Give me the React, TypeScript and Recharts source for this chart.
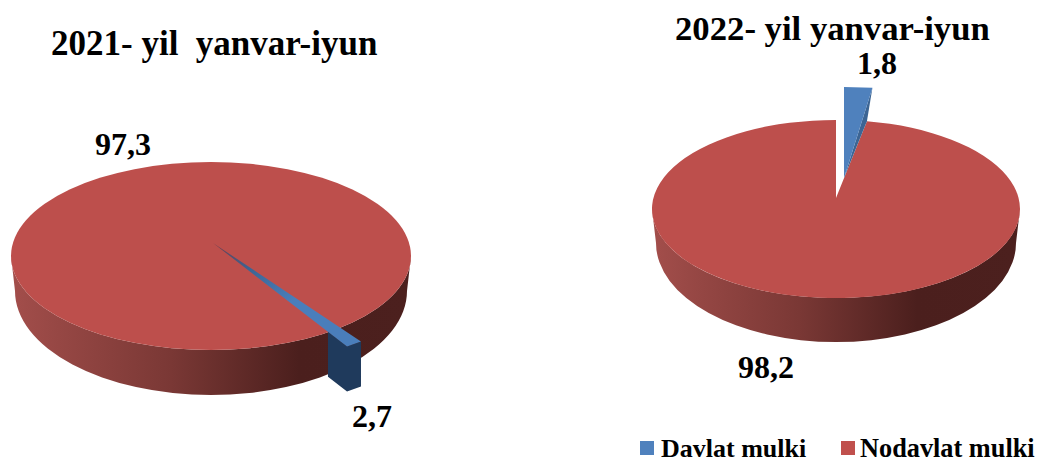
import { PieChart, Pie } from "recharts";

const names = ["Nodavlat mulki", "Davlat mulki"];
const values2021 = [97.3, 2.7];
const values2022 = [98.2, 1.8];
const colors = ["#c0504d", "#4f81bd"];
const serif = "'Liberation Serif', serif";

const table = (values: number[]) =>
    values.map((value, i) => ({ name: names[i], value, fill: colors[i] }));

type Look = {
    squash: number;
    depth: number;
    wallId: string;
    apexShift: [number, number];
    rimShift: [number, number];
    rimScale: number;
    narrow: number;
    redApexShift: number;
    redExtra: number;
    fullDisc: boolean;
    frontWall: boolean;
};

const look2021: Look = {
    squash: 0.47, depth: 45, wallId: "wall2021",
    apexShift: [2, -13], rimShift: [0, 0], rimScale: 1.178, narrow: 0.44,
    redApexShift: 0, redExtra: 0, fullDisc: true, frontWall: true,
};
const look2022: Look = {
    squash: 0.484, depth: 44, wallId: "wall2022",
    apexShift: [8, -31], rimShift: [8, 0], rimScale: 1.37, narrow: 1,
    redApexShift: -11, redExtra: 3.2, fullDisc: false, frontWall: false,
};

const rad = Math.PI / 180;

// recharts only knows flat pies, so squash each sector and add a wall
const slice3D = (look: Look) => (props: any) => {
    const { cx, cy, startAngle, endAngle, outerRadius, name } = props;
    const r = outerRadius;
    const ry = r * look.squash;
    const at = (deg: number, k = 1, sx = 0, sy = 0): [number, number] => [
        cx + k * r * Math.cos(deg * rad) + sx,
        cy - k * ry * Math.sin(deg * rad) + sy,
    ];
    const d = look.depth;

    if (name === names[0]) {
        const rimStart = at(startAngle - look.redExtra);
        const rimEnd = at(endAngle);
        const left = at(180);
        const right = at(0);
        // lower edge is a little narrower and rounder, as in the perspective view
        const low = cy + d - 10;
        const wall = `M${left[0]},${left[1]} A${r},${ry} 0 0 0 ${right[0]},${right[1]} L${right[0] - 4},${low} A${r - 4},${ry + 10} 0 0 1 ${left[0] + 4},${low} Z`;
        const top = look.fullDisc
            ? `M${left[0]},${left[1]} A${r},${ry} 0 1 1 ${right[0]},${right[1]} A${r},${ry} 0 1 1 ${left[0]},${left[1]} Z`
            : `M${cx},${cy + look.redApexShift} L${rimStart[0]},${rimStart[1]} A${r},${ry} 0 1 1 ${rimEnd[0]},${rimEnd[1]} Z`;
        return (
            <g>
                <path d={wall} fill={`url(#${look.wallId})`} />
                <path d={top} fill="#bd4f4c" />
            </g>
        );
    }

    const mid = (startAngle + endAngle) / 2;
    const half = ((startAngle - endAngle) / 2) * look.narrow;
    const apex: [number, number] = [cx + look.apexShift[0], cy + look.apexShift[1]];
    const pS = at(mid + half, look.rimScale, look.rimShift[0], look.rimShift[1]);
    const pE = at(mid - half, look.rimScale, look.rimShift[0], look.rimShift[1]);
    const poly = (pts: [number, number][]) => pts.map((p) => p.join(",")).join(" ");
    const down = (p: [number, number]): [number, number] => [p[0], p[1] + d];

    if (look.frontWall) {
        const t = 0.858;
        const q: [number, number] = [apex[0] + (pE[0] - apex[0]) * t, apex[1] + (pE[1] - apex[1]) * t];
        return (
            <g>
                <polygon points={poly([q, pE, pS, down(pS), down(pE), down(q)])} fill="#1f3a5c" />
                <polygon points={poly([apex, pE, pS])} fill="url(#sliver2021)" />
            </g>
        );
    }
    // exploded slice at the back: inner wall ends where the red rim starts
    const foot = at(endAngle - look.redExtra);
    return (
        <g>
            <polygon points={poly([apex, pE, foot])} fill="#3c6594" />
            <polygon points={poly([apex, pS, pE])} fill="#4f81bd" />
        </g>
    );
};

const wallStops = [
    [0, "#a34e4b"],
    [0.12, "#964744"],
    [0.4, "#7a3835"],
    [0.72, "#4b1f1d"],
    [1, "#4c201e"],
];

function Wall({ id, x1, x2 }: { id: string; x1: number; x2: number }) {
    return (
        <linearGradient id={id} gradientUnits="userSpaceOnUse" x1={x1} x2={x2} y1={0} y2={0}>
            {wallStops.map(([o, c]) => (
                <stop key={String(o)} offset={o as number} stopColor={c as string} />
            ))}
        </linearGradient>
    );
}

function Label({ x, y, size, children }: { x: number; y: number; size: number; children: string }) {
    return (
        <text x={x} y={y} fontFamily={serif} fontWeight="bold" fontSize={size} fill="#000" xmlSpace="preserve">
            {children}
        </text>
    );
}

export default function App() {
    return (
        <div style={{ position: "absolute", left: 0, top: 0, width: 1039, height: 458, overflow: "hidden", background: "#fff" }}>
            <PieChart width={1039} height={458} margin={{ top: 0, right: 0, bottom: 0, left: 0 }}>
                <defs>
                    <Wall id="wall2021" x1={11} x2={411} />
                    <Wall id="wall2022" x1={652} x2={1020} />
                    <linearGradient id="sliver2021" x1={0} y1={0} x2={1} y2={1}>
                        <stop offset={0} stopColor="#6b3a4a" />
                        <stop offset={0.25} stopColor="#3c6594" />
                        <stop offset={0.55} stopColor="#4a7ebb" />
                    </linearGradient>
                </defs>
                <Pie
                    data={table(values2021)}
                    dataKey="value"
                    nameKey="name"
                    cx={211}
                    cy={256}
                    innerRadius={0}
                    outerRadius={200}
                    startAngle={-57.46}
                    endAngle={-417.46}
                    stroke="none"
                    label={false}
                    labelLine={false}
                    shape={slice3D(look2021)}
                    isAnimationActive={false}
                />
                <Pie
                    data={table(values2022)}
                    dataKey="value"
                    nameKey="name"
                    cx={836}
                    cy={209}
                    innerRadius={0}
                    outerRadius={184}
                    startAngle={83.52}
                    endAngle={-276.48}
                    stroke="none"
                    label={false}
                    labelLine={false}
                    shape={slice3D(look2022)}
                    isAnimationActive={false}
                />
                <Label x={51} y={55} size={35}>{"2021- yil  yanvar-iyun"}</Label>
                <Label x={675} y={40} size={34.7}>{"2022- yil yanvar-iyun"}</Label>
                <Label x={95} y={155} size={32}>{"97,3"}</Label>
                <Label x={352} y={427} size={32}>{"2,7"}</Label>
                <Label x={857} y={74} size={32}>{"1,8"}</Label>
                <Label x={738} y={378} size={32}>{"98,2"}</Label>
                <rect x={640} y={441} width={14} height={14} fill={colors[1]} />
                <Label x={661} y={457} size={26}>{names[1]}</Label>
                <rect x={841} y={441} width={14} height={14} fill={colors[0]} />
                <Label x={860} y={457} size={26.3}>{names[0]}</Label>
            </PieChart>
        </div>
    );
}
